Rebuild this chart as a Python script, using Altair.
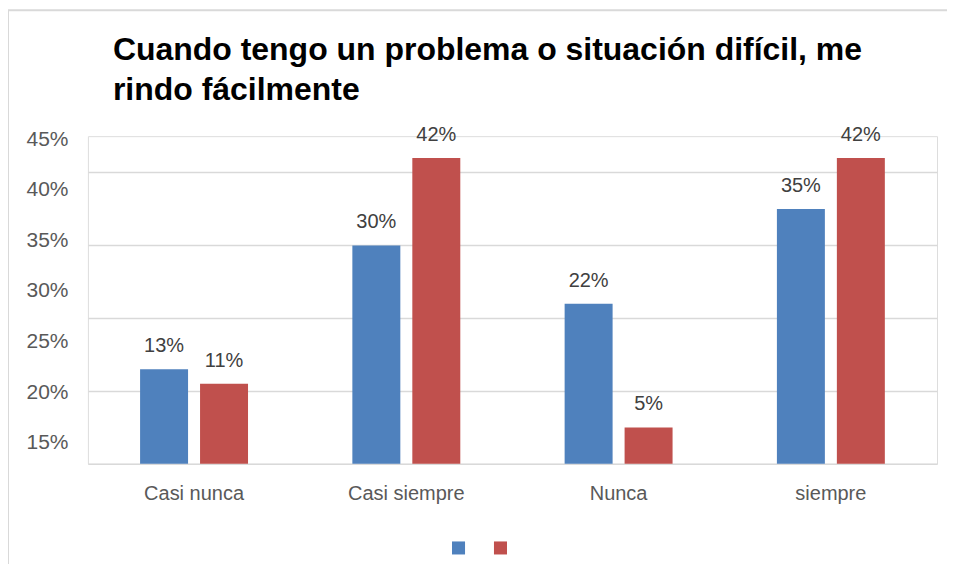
import altair as alt
import pandas as pd

categories = ["Casi nunca", "Casi siempre", "Nunca", "siempre"]
series_names = ["Serie 1", "Serie 2"]
serie1 = [13, 30, 22, 35]
serie2 = [11, 42, 5, 42]
colors = ["#4F81BD", "#C0504D"]
# tick labels printed on the vertical axis (as in the picture)
axis_tick_labels = [15, 20, 25, 30, 35, 40, 45]
grid_values = [0, 5, 10, 15, 20, 25, 30, 35, 40, 45]

rows = []
for i, c in enumerate(categories):
    rows.append({"cat": c, "serie": series_names[0], "v": serie1[i], "lbl": f"{serie1[i]}%"})
    rows.append({"cat": c, "serie": series_names[1], "v": serie2[i], "lbl": f"{serie2[i]}%"})
df = pd.DataFrame(rows)

FONT = "Liberation Sans"

x_enc = alt.X("cat:N", sort=categories, scale=alt.Scale(paddingInner=0, paddingOuter=0),
              axis=alt.Axis(title=None, labelAngle=0, labelFontSize=20, labelColor="#595959",
                            labelFont=FONT, ticks=False, domain=False, labelPadding=20))
xoff = alt.XOffset("serie:N", sort=series_names,
                   scale=alt.Scale(paddingInner=0.2, paddingOuter=0.87))
y_enc = alt.Y("v:Q", scale=alt.Scale(domain=[0, 45], nice=False),
              axis=alt.Axis(title=None, values=grid_values, labels=False, ticks=False,
                            domain=False, grid=True, gridColor="#d9d9d9", gridWidth=1.5))

base = alt.Chart(df)
one = pd.DataFrame({"a": [0]})

border_top = alt.Chart(one).mark_rule(stroke="#d9d9d9", strokeWidth=2, clip=False).encode(
    x=alt.value(-80), x2=alt.value(870), y=alt.value(-126))
border_left = alt.Chart(one).mark_rule(stroke="#d9d9d9", strokeWidth=2, clip=False).encode(
    x=alt.value(-80), y=alt.value(-126), y2=alt.value(600))

bars = base.mark_bar().encode(
    x=x_enc, xOffset=xoff, y=y_enc,
    color=alt.Color("serie:N", sort=series_names,
                    scale=alt.Scale(domain=series_names, range=colors),
                    legend=alt.Legend(title=None, orient="none", legendX=364, legendY=405,
                                      direction="horizontal", symbolType="square",
                                      symbolSize=170, labelExpr="''", labelFontSize=1,
                                      columnPadding=28, labelOffset=0, symbolStrokeWidth=0)),
)

texts = base.mark_text(baseline="alphabetic", dy=-17, fontSize=20, color="#404040",
                       font=FONT).encode(
    x=alt.X("cat:N", sort=categories), xOffset=alt.XOffset("serie:N", sort=series_names),
    y=alt.Y("v:Q"), text="lbl:N")

ticks_df = pd.DataFrame({"t": axis_tick_labels})
fake_axis = alt.Chart(ticks_df).mark_point(opacity=0).encode(
    y=alt.Y("t:Q", scale=alt.Scale(domain=[12.9, 45.3], nice=False, zero=False),
            axis=alt.Axis(title=None, orient="left", values=axis_tick_labels,
                          labelExpr="datum.value + '%'", grid=False, ticks=False,
                          domain=False, labelFontSize=21, labelColor="#595959",
                          labelFont=FONT, labelPadding=20, labelBaseline="middle"))
)

main = alt.layer(border_top, border_left, bars, texts).resolve_scale(y="shared")

chart = alt.layer(main, fake_axis).resolve_scale(y="independent").properties(
    width=850, height=328,
    padding={"left": 80, "top": 128, "right": 10, "bottom": 100},
    autosize=alt.AutoSizeParams(type="none"),
    title=alt.TitleParams(
        ["Cuando tengo un problema o situación difícil, me", "rindo fácilmente"],
        anchor="start", frame="group", font=FONT, fontSize=32, fontWeight="bold",
        color="#000000", offset=10, dx=25, dy=108, lineHeight=40, orient="top"),
).configure_view(stroke=None).configure(background="white")

chart.save("out.html", embed_options={"renderer": "svg", "actions": False})
